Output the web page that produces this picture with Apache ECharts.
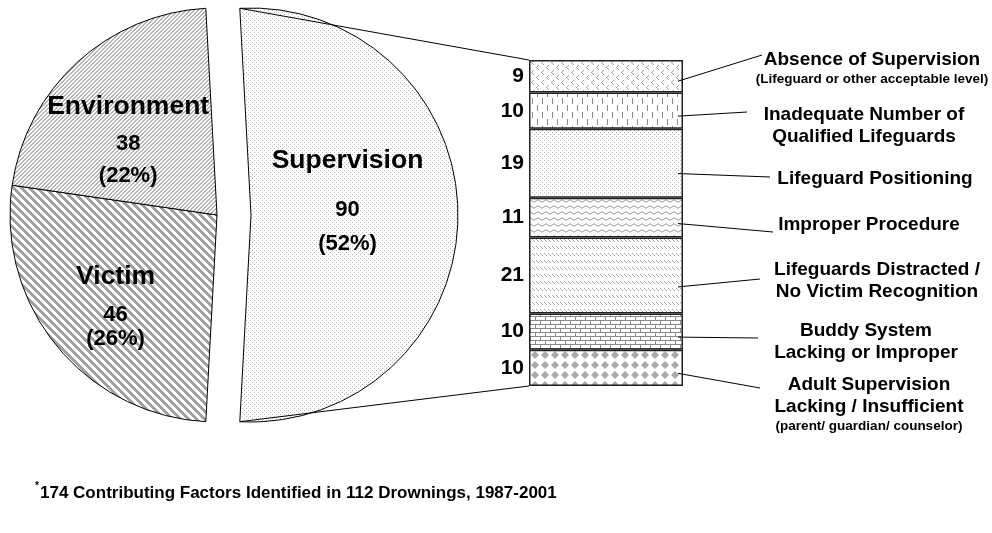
<!DOCTYPE html>
<html>
<head>
<meta charset="utf-8">
<script src="https://cdn.jsdelivr.net/npm/echarts@6/dist/echarts.min.js"></script>
<style>
  html, body { margin: 0; padding: 0; background: #fff; }
  #chart { width: 992px; height: 533px; }
</style>
</head>
<body>
<div id="chart"></div>
<script>
// ---------------- DATA ----------------
const pieNames = ['Supervision', 'Victim', 'Environment'];
const pieValues = [90, 46, 38];

// stacked bar, listed top to bottom
const barValues = [9, 10, 19, 11, 21, 10, 10];
const barLabels = [
  ['Absence of Supervision', '(Lifeguard or other acceptable level)'],
  ['Inadequate Number of', 'Qualified Lifeguards'],
  ['Lifeguard Positioning'],
  ['Improper Procedure'],
  ['Lifeguards Distracted /', 'No Victim Recognition'],
  ['Buddy System', 'Lacking or Improper'],
  ['Adult Supervision', 'Lacking / Insufficient', '(parent/ guardian/ counselor)']
];
const footnoteMark = '*';
const footnoteText = '174 Contributing Factors Identified in 112 Drownings, 1987-2001';

// ---------------- LAYOUT ----------------
const FONT = '"Liberation Sans", Arial, Helvetica, sans-serif';
const PIE = { cx: 217, cy: 215, r: 207, offset: 34 };
const BAR = { left: 529, top: 60, width: 154, height: 326 };
const PIE_LABEL_SHIFT = [[-10, -20], [-9.5, 9], [-8.5, 1]];
const LABEL_POS = [[872, 60], [864, 115], [875, 179], [869, 225], [877, 270], [866, 331], [869, 385]];
const LEADER_END = [[762, 55], [747, 112], [770, 177], [773, 232], [760, 279], [758, 338], [760, 388]];

// ---------------- PATTERNS ----------------
function tile(w, h, draw) {
  const c = document.createElement('canvas');
  c.width = w; c.height = h;
  const g = c.getContext('2d');
  g.fillStyle = '#fff';
  g.fillRect(0, 0, w, h);
  draw(g, w, h);
  return { image: c, repeat: 'repeat' };
}
const patUpDiag = tile(4, 4, (g) => {
  g.fillStyle = '#b4b4b4';
  for (let i = 0; i < 4; i++) { g.fillRect(3 - i, i, 1, 1); g.fillRect((4 - i) % 4, i, 1, 1); }
});
const patWideDown = tile(8, 8, (g) => {
  g.fillStyle = '#a0a0a0';
  for (let y = 0; y < 8; y++) for (let k = 0; k < 4; k++) g.fillRect((y + k) % 8, y, 1, 1);
});
const patDots = tile(4, 4, (g) => {
  g.fillStyle = '#b8b8b8';
  g.fillRect(0, 0, 1, 1); g.fillRect(2, 2, 1, 1);
});
const patChevron = tile(10, 10, (g) => {
  g.fillStyle = '#a0a0a0';
  [[3,0],[2,1],[1,2],[2,3],[3,4]].forEach(([x,y]) => { g.fillRect(x, y, 1, 1); g.fillRect((x + 5) % 10, y + 5, 1, 1); });
});
const patVDash = tile(10, 14, (g) => {
  g.fillStyle = '#8a8a8a';
  g.fillRect(2, 0, 1, 6); g.fillRect(7, 7, 1, 6);
});
const patFineDots = tile(4, 4, (g) => {
  g.fillStyle = '#bcbcbc';
  g.fillRect(0, 0, 1, 1); g.fillRect(2, 2, 1, 1);
});
const patWave = tile(8, 6, (g) => {
  g.strokeStyle = '#999';
  g.lineWidth = 1;
  g.beginPath(); g.moveTo(0, 3); g.quadraticCurveTo(2, 0.5, 4, 3); g.quadraticCurveTo(6, 5.5, 8, 3); g.stroke();
});
const patShortDiag = tile(4, 7, (g) => {
  g.fillStyle = '#a8a8a8';
  g.fillRect(0, 1, 1, 1); g.fillRect(1, 2, 1, 1); g.fillRect(2, 3, 1, 1);
});
const patBrick = tile(10, 8, (g) => {
  g.fillStyle = '#8a8a8a';
  g.fillRect(0, 0, 10, 1); g.fillRect(0, 4, 10, 1);
  g.fillRect(0, 0, 1, 4); g.fillRect(5, 4, 1, 4);
});
const patDiamond = tile(10, 10, (g) => {
  g.fillStyle = '#aaa';
  g.beginPath(); g.moveTo(5, 1); g.lineTo(9, 5); g.lineTo(5, 9); g.lineTo(1, 5); g.closePath(); g.fill();
});
const piePatterns = [patDots, patWideDown, patUpDiag];
const barPatterns = [patChevron, patVDash, patFineDots, patWave, patShortDiag, patBrick, patDiamond];

// ---------------- CHART ----------------
const chart = echarts.init(document.getElementById('chart'), null, { renderer: 'canvas' });
const pieTotal = pieValues.reduce((a, b) => a + b, 0);
const supTotal = barValues.reduce((a, b) => a + b, 0);
const supAngle = pieValues[0] / pieTotal * 360;
const startAngle = supAngle / 2;

const pieRich = {
  n: { fontSize: 26.5, fontWeight: 'bold', fontFamily: FONT, color: '#000', lineHeight: 40 },
  v: { fontSize: 22, fontWeight: 'bold', fontFamily: FONT, color: '#000', lineHeight: 36 },
  p: { fontSize: 22, fontWeight: 'bold', fontFamily: FONT, color: '#000', lineHeight: 28 }
};
const pieRichOverride = [
  { n: { lineHeight: 60 }, v: { lineHeight: 38 }, p: { lineHeight: 30 } },
  { n: { lineHeight: 40 }, v: { lineHeight: 36 }, p: { lineHeight: 12 } },
  {}
];

const option = {
  animation: false,
  backgroundColor: '#fff',
  grid: { left: BAR.left, top: BAR.top, width: BAR.width, height: BAR.height, containLabel: false, outerBoundsMode: 'none' },
  xAxis: { type: 'category', data: ['Supervision'], show: false },
  yAxis: { type: 'value', min: 0, max: supTotal, inverse: true, show: false },
  series: [
    {
      type: 'pie',
      center: [PIE.cx, PIE.cy],
      radius: PIE.r,
      startAngle: startAngle,
      clockwise: true,
      selectedMode: 'single',
      selectedOffset: PIE.offset,
      avoidLabelOverlap: false,
      emphasis: { disabled: true },
      select: { itemStyle: { borderColor: '#000', borderWidth: 1 } },
      itemStyle: { borderColor: '#000', borderWidth: 1 },
      label: {
        show: true,
        position: 'inside',
        align: 'center',
        formatter: (p) => `{n|${p.name}}\n{v|${p.value}}\n{p|(${Math.round(p.percent)}%)}`,
        rich: pieRich
      },
      labelLine: { show: false },
      labelLayout: (params) => {
        const s = PIE_LABEL_SHIFT[params.dataIndex];
        return { dx: s[0], dy: s[1] };
      },
      data: pieNames.map((n, i) => ({
        name: n,
        value: pieValues[i],
        selected: i === 0,
        itemStyle: { color: piePatterns[i] },
        label: {
          rich: {
            n: Object.assign({}, pieRich.n, pieRichOverride[i].n || {}),
            v: Object.assign({}, pieRich.v, pieRichOverride[i].v || {}),
            p: Object.assign({}, pieRich.p, pieRichOverride[i].p || {})
          }
        }
      }))
    }
  ].concat(barValues.map((v, i) => ({
    type: 'bar',
    name: barLabels[i].join(' '),
    stack: 'sup',
    barWidth: '100%',
    silent: true,
    emphasis: { disabled: true },
    data: [v],
    itemStyle: { color: barPatterns[i], borderColor: '#222', borderWidth: 1.5 },
    label: {
      show: true, position: 'left', distance: 5, formatter: '{c}',
      fontSize: 21, fontWeight: 'bold', fontFamily: FONT, color: '#000'
    }
  })))
};
chart.setOption(option);

// ---------------- ANNOTATIONS (derived from chart scales) ----------------
const graphics = [];
const toRad = Math.PI / 180;
const sCx = PIE.cx + PIE.offset;
const a0 = startAngle * toRad, a1 = (startAngle - supAngle) * toRad;
const topCorner = [sCx + PIE.r * Math.cos(a0), PIE.cy - PIE.r * Math.sin(a0)];
const botCorner = [sCx + PIE.r * Math.cos(a1), PIE.cy - PIE.r * Math.sin(a1)];
const barTopY = chart.convertToPixel({ gridIndex: 0 }, [0, 0])[1];
const barBotY = chart.convertToPixel({ gridIndex: 0 }, [0, supTotal])[1];
graphics.push({ type: 'line', z: 100, shape: { x1: topCorner[0], y1: topCorner[1], x2: BAR.left, y2: barTopY }, style: { stroke: '#000', lineWidth: 1 } });
graphics.push({ type: 'line', z: 100, shape: { x1: botCorner[0], y1: botCorner[1], x2: BAR.left, y2: barBotY }, style: { stroke: '#000', lineWidth: 1 } });

let cum = 0;
barValues.forEach((v, i) => {
  const y = chart.convertToPixel({ gridIndex: 0 }, [0, cum + v * 0.65])[1];
  cum += v;
  const xr = BAR.left + BAR.width - 5;
  graphics.push({ type: 'line', z: 100, shape: { x1: xr, y1: y, x2: LEADER_END[i][0], y2: LEADER_END[i][1] }, style: { stroke: '#000', lineWidth: 1 } });
  let ly = LABEL_POS[i][1];
  barLabels[i].forEach((t, k) => {
    const small = /^\(/.test(t);
    if (k > 0) ly += small ? 19 : 22;
    graphics.push({
      type: 'text', z: 100,
      style: {
        text: t, x: LABEL_POS[i][0], y: ly,
        textAlign: 'center', textVerticalAlign: 'middle',
        fontSize: small ? 13.5 : 19, fontWeight: 'bold', fontFamily: FONT, fill: '#000'
      }
    });
  });
});

graphics.push({ type: 'text', z: 100, style: { text: footnoteMark, x: 35, y: 486, textAlign: 'left', textVerticalAlign: 'middle', fontSize: 10, fontWeight: 'bold', fontFamily: FONT, fill: '#000' } });
graphics.push({ type: 'text', z: 100, style: { text: footnoteText, x: 40, y: 493, textAlign: 'left', textVerticalAlign: 'middle', fontSize: 17, fontWeight: 'bold', fontFamily: FONT, fill: '#000' } });

chart.setOption({ graphic: graphics });
</script>
</body>
</html>
